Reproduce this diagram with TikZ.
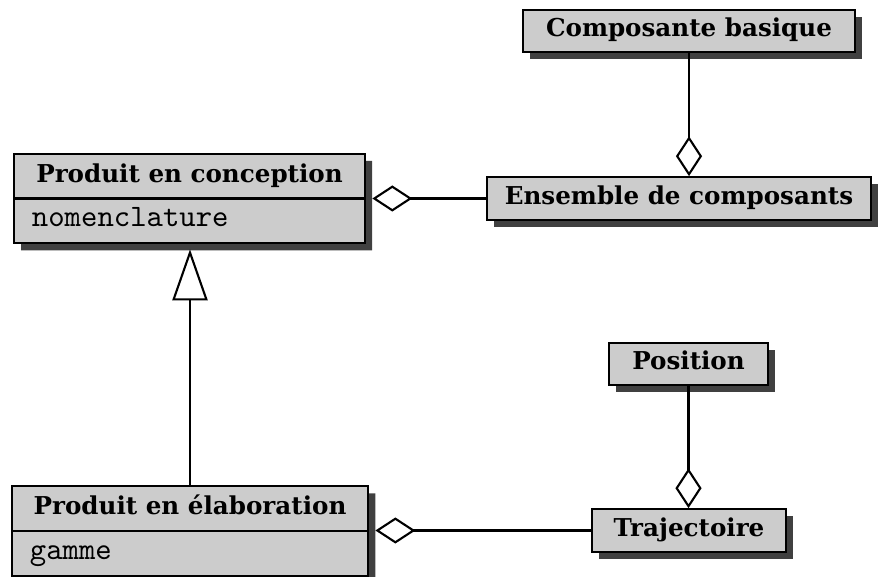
\documentclass[tikz,border=0pt]{standalone}
\usepackage{fontspec}
\setmainfont{DejaVu Serif}
\usetikzlibrary{shapes.multipart,shadows,arrows.meta}
\newcommand{\attr}[1]{{\mdseries\ttfamily\fontsize{10.4}{10}\selectfont\strut #1}}

\begin{document}
\begin{tikzpicture}[x=0.3333pt, y=-0.3333pt,
    classe/.style={draw, line width=0.7pt, fill=black!20,
      font=\fontsize{8.2}{10}\selectfont\bfseries,
      inner xsep=6pt, inner ysep=2.1pt,
      drop shadow={shadow xshift=2.4pt, shadow yshift=-2.4pt,
        fill=black!75, opacity=1}},
    classeattr/.style={classe, rectangle split, rectangle split parts=2,
      rectangle split part align={center,left}},
    agreg/.style={line width=0.7pt, -{Diamond[open, length=13.3pt, width=8.7pt]}},
    herit/.style={line width=0.7pt, -{Triangle[open, length=17pt, width=11.7pt]}}]
  \useasboundingbox (0,0) rectangle (882,577) ;

  % classes
  \node[classe, minimum width=110.7pt] (basique) at (689,31)
    {\strut Composante basique} ;
  \node[classeattr, minimum width=117pt] (conception) at (189.5,198.5)
    {\strut Produit en conception
     \nodepart{two}\attr{nomenclature}} ;
  \node[classe, minimum width=124pt] (ensemble) at (679,198.5)
    {\strut Ensemble de composants} ;
  \node[classeattr, minimum width=118.7pt] (elaboration) at (190,531)
    {\strut Produit en élaboration
     \nodepart{two}\attr{gamme}} ;
  \node[classe, minimum width=53pt] (position) at (688.5,364)
    {\strut Position} ;
  \node[classe, minimum width=64.7pt] (trajectoire) at (689,530.5)
    {\strut Trajectoire} ;

  % liens
  \draw[agreg] (basique.south) -- (basique.south |- ensemble.north) ;
  \draw[agreg, shorten >=2.1pt] (ensemble.west) -- (ensemble.west -| conception.east) ;
  \draw[herit, shorten >=1.7pt] (elaboration.north) -- (elaboration.north |- conception.south) ;
  \draw[agreg] (position.south) -- (position.south |- trajectoire.north) ;
  \draw[agreg, shorten >=2.1pt] (trajectoire.west) -- (trajectoire.west -| elaboration.east) ;
\end{tikzpicture}
\end{document}
